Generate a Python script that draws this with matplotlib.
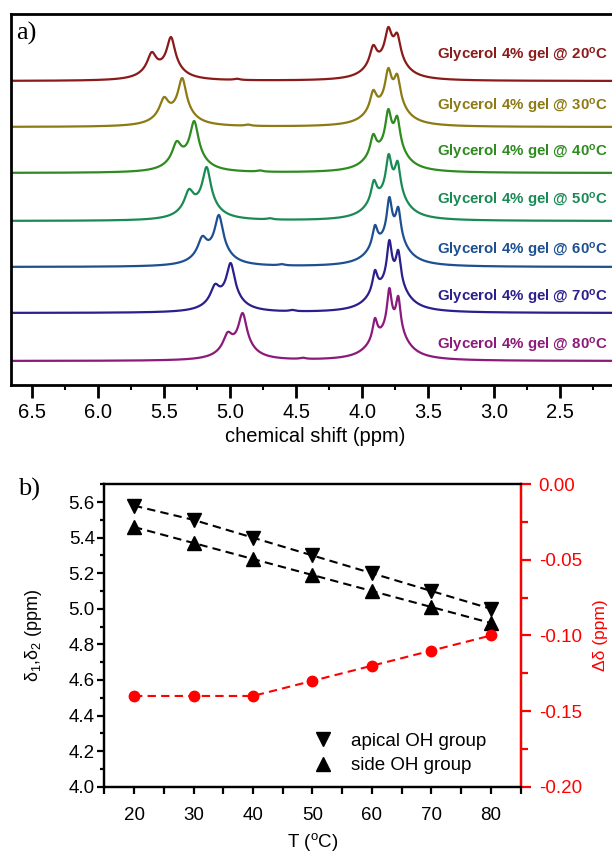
import numpy as np
import matplotlib
matplotlib.use('Agg')
import matplotlib.pyplot as plt
from matplotlib.lines import Line2D
from matplotlib.ticker import MultipleLocator, FormatStrFormatter

plt.rcParams['font.family'] = ['Liberation Sans', 'DejaVu Sans']
plt.rcParams['mathtext.fontset'] = 'custom'
plt.rcParams['mathtext.rm'] = 'Liberation Sans'
plt.rcParams['mathtext.it'] = 'Liberation Sans:italic'
plt.rcParams['mathtext.bf'] = 'Liberation Sans:bold'

# ---------------- a) espectros 1H (ppm, alturas en u.a.)
temps = [20, 30, 40, 50, 60, 70, 80]
colores = ['#8b1a1a', '#8c7a14', '#2e8b1f', '#1a8a55', '#1d4f91', '#2a1f8c', '#8b1a7a']
offsets = [304, 258, 212, 164, 118, 72, 24]
pos_oh = [[5.595, 5.449], [5.502, 5.364], [5.406, 5.273], [5.313, 5.179],
          [5.212, 5.086], [5.116, 4.997], [5.020, 4.906]]
alt_oh = [[29, 44], [30, 49], [32, 52], [32, 54], [31, 52], [29, 50], [29, 48]]
pos_ch = [[3.917, 3.803, 3.735], [3.917, 3.803, 3.735], [3.917, 3.803, 3.735],
          [3.912, 3.800, 3.732], [3.904, 3.795, 3.727], [3.904, 3.795, 3.727],
          [3.904, 3.795, 3.727]]
alt_ch = [[36, 54, 48], [37, 59, 53], [39, 64, 57], [41, 67, 60],
          [42, 70, 60], [43, 73, 63], [43, 73, 65]]
ancho_ch = [0.030, 0.028, 0.026, 0.025, 0.023, 0.022, 0.021]
pos_agua = [4.949, 4.864, 4.775, 4.70, 4.61, 4.53, 4.45]
label_y = [330, 279, 233, 185, 135, 88, 40]

# ---------------- b) desplazamientos vs T
T = [20, 30, 40, 50, 60, 70, 80]
apical = [5.58, 5.50, 5.40, 5.30, 5.20, 5.10, 5.00]
lateral = [5.46, 5.37, 5.28, 5.19, 5.10, 5.01, 4.92]
delta = [-0.14, -0.14, -0.14, -0.13, -0.12, -0.11, -0.10]


def linea(x, x0, g):
    # lorentziana estrecha con un ala ancha
    return 0.68 * g**2 / ((x - x0)**2 + g**2) + 0.32 * 0.1**2 / ((x - x0)**2 + 0.1**2)


def espectro(x, centros, alturas, gammas):
    c = np.array(centros)
    g = np.array(gammas)
    M = linea(c[:, None], c[None, :], g[None, :])
    a = np.linalg.solve(M, np.array(alturas, float))
    return sum(ai * linea(x, ci, gi) for ai, ci, gi in zip(a, c, g))


fig = plt.figure(figsize=(6.12, 8.56), dpi=100)

ax = fig.add_axes([0.0180, 0.5502, 0.9945, 0.4334])
x = np.linspace(6.8, 1.9, 5000)
for i, t in enumerate(temps):
    y = espectro(x, pos_oh[i] + pos_ch[i], alt_oh[i] + alt_ch[i],
                 [0.038, 0.036] + [ancho_ch[i]] * 3)
    y += 1.2 * 0.025**2 / ((x - pos_agua[i])**2 + 0.025**2)
    ax.plot(x, offsets[i] + y, color=colores[i], lw=1.6)
    ax.text(3.434, label_y[i], 'Glycerol 4% gel @ ' + str(t) + r'$^{\mathbf{o}}$C',
            color=colores[i], fontsize=10.8, fontweight='bold', va='center', ha='left')

ax.set_xlim(6.661, 2.05)
ax.set_ylim(0, 371)
ax.set_yticks([])
ax.spines['right'].set_visible(False)
for s in ['left', 'top', 'bottom']:
    ax.spines[s].set_linewidth(2)
ax.xaxis.set_major_locator(MultipleLocator(0.5))
ax.xaxis.set_minor_locator(MultipleLocator(0.25))
ax.xaxis.set_major_formatter(FormatStrFormatter('%.1f'))
ax.tick_params(axis='x', which='major', direction='out', length=9.6, width=2, labelsize=14.5, pad=3)
ax.tick_params(axis='x', which='minor', direction='out', length=3.6, width=1.5)
ax.set_xlabel('chemical shift (ppm)', fontsize=14.5, labelpad=4)

fig.text(0.027, 0.9539, 'a)', family='Liberation Serif', fontsize=19, va='baseline')

# ---------------- b)
ax2 = fig.add_axes([0.1704, 0.0810, 0.6804, 0.3532])
ax3 = ax2.twinx()

ax2.plot(T, apical, color='black', ls='--', dashes=(4, 2.5), lw=1.5, marker='v', ms=10.5)
ax2.plot(T, lateral, color='black', ls='--', dashes=(4, 2.5), lw=1.5, marker='^', ms=10.5)
ax3.plot(T, delta, color='red', ls='--', dashes=(4, 2.5), lw=1.5, marker='o', ms=7.5)

ax2.set_xlim(15, 85)
ax2.set_ylim(4.0, 5.7)
ax3.set_ylim(-0.20, 0.0)
ax2.xaxis.set_major_locator(MultipleLocator(10))
ax2.xaxis.set_minor_locator(MultipleLocator(5))
ax2.yaxis.set_major_locator(MultipleLocator(0.2))
ax2.yaxis.set_minor_locator(MultipleLocator(0.1))
ax2.yaxis.set_major_formatter(FormatStrFormatter('%.1f'))
ax3.yaxis.set_major_locator(MultipleLocator(0.05))
ax3.yaxis.set_minor_locator(MultipleLocator(0.025))
ax3.yaxis.set_major_formatter(FormatStrFormatter('%.2f'))

for a in (ax2, ax3):
    for s in a.spines.values():
        s.set_linewidth(1.6)
ax3.spines['right'].set_color('red')

ax2.tick_params(axis='both', which='both', direction='out', width=1.6, labelsize=13.5)
ax2.tick_params(axis='y', which='major', length=4.8, pad=2)
ax2.tick_params(axis='y', which='minor', length=3)
ax2.tick_params(axis='x', which='both', length=4.8, pad=10)
ax3.tick_params(axis='y', which='both', direction='out', width=1.6, colors='red', labelsize=13.5, pad=6)
ax3.tick_params(axis='y', which='major', length=7)
ax3.tick_params(axis='y', which='minor', length=4.8)

ax2.set_xlabel(r'T ($^{\rm o}$C)', fontsize=13.5, labelpad=5)
ax2.set_ylabel('δ$_1$,δ$_2$ (ppm)', fontsize=13, labelpad=18)
ax3.set_ylabel('Δδ (ppm)', fontsize=12.5, color='red', labelpad=8)

handles = [Line2D([], [], color='black', ls='none', marker='v', ms=10.5),
           Line2D([], [], color='black', ls='none', marker='^', ms=10.5)]
ax2.legend(handles, ['apical OH group', 'side OH group'], loc='lower left',
           bbox_to_anchor=(0.48, 0.01), frameon=False, fontsize=13.5,
           handlelength=1.0, handletextpad=1.0, labelspacing=0.4, borderpad=0)

fig.text(0.029, 0.4206, 'b)', family='Liberation Serif', fontsize=19, va='baseline')

fig.savefig('out.png', dpi=100)
